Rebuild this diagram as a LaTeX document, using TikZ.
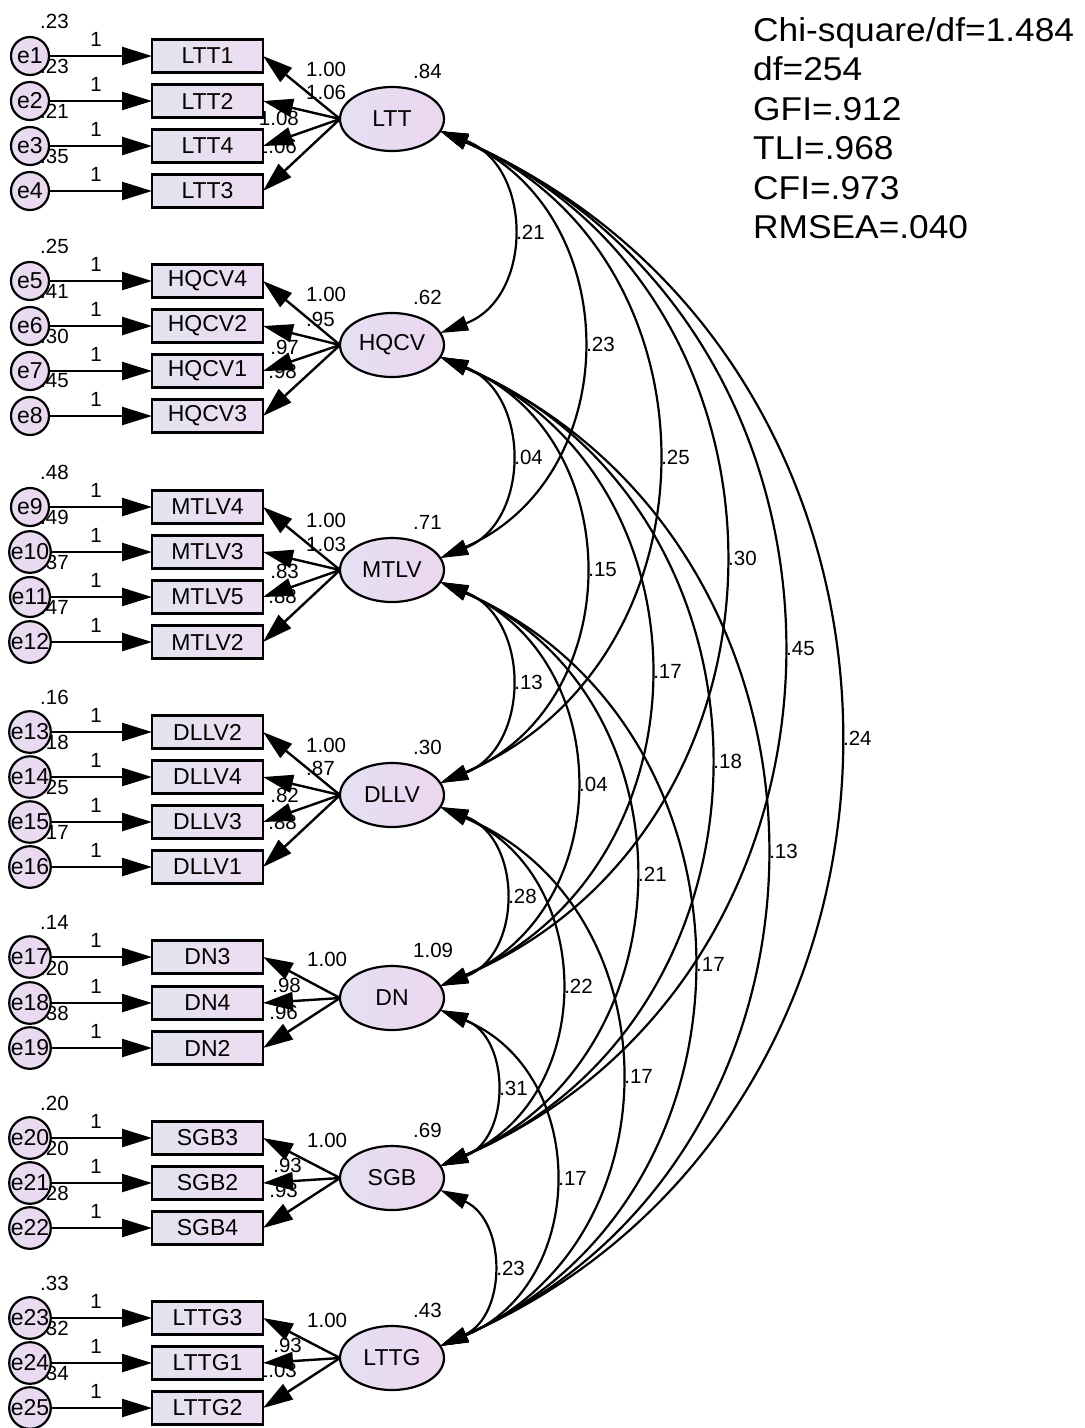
\documentclass[tikz,border=0pt]{standalone}
\usepackage{fontspec}
\setmainfont{Liberation Sans}
\usepackage{graphicx}
\usetikzlibrary{arrows.meta,shapes.geometric}
\pgfdeclarelayer{back}
\pgfdeclarelayer{bg}
\pgfsetlayers{back,bg,main}
\definecolor{boxL}{RGB}{226,228,240}
\definecolor{boxR}{RGB}{238,220,242}
\definecolor{latL}{RGB}{228,224,242}
\definecolor{latR}{RGB}{236,214,240}
\definecolor{errL}{RGB}{230,222,240}
\definecolor{errR}{RGB}{236,214,240}
\newcommand\numfnt{\fontsize{20.5}{23}\selectfont}
\newcommand\boxfnt{\fontsize{23}{26}\selectfont}
\newcommand\fitfnt{\fontsize{33}{39}\selectfont}
\newcommand\fitline[1]{\scalebox{1.07}[1]{#1}}
\begin{document}
\begin{tikzpicture}[x=1pt,y=1pt,
  obs/.style={draw, line width=2.4pt, minimum width=111pt, minimum height=33pt, inner sep=0pt, outer sep=0pt, left color=boxL, right color=boxR, font=\boxfnt},
  lat/.style={ellipse, draw, line width=2.2pt, minimum width=104pt, minimum height=64pt, inner sep=0pt, outer sep=0pt, left color=latL, right color=latR, font=\boxfnt},
  err/.style={circle, draw, line width=2.2pt, minimum size=38pt, inner sep=0pt, outer sep=0pt, left color=errL, right color=errR, font=\boxfnt},
  num/.style={font=\numfnt, inner sep=0pt},
  fit/.style={font=\fitfnt, inner sep=0pt, anchor=base west},
  load/.style={line width=2.4pt, -{Triangle[length=30pt,width=18pt]}},
  cov/.style={line width=2.2pt, {Triangle[length=28pt,width=15pt]}-{Triangle[length=28pt,width=15pt]}}
]
\begin{pgfonlayer}{back}
\fill[white] (0,0) rectangle (1085,-1428);
\end{pgfonlayer}
\useasboundingbox (0,0) rectangle (1085,-1428);

% fit statistics
\node[fit] (f1) at (753,-41) {\fitline{Chi-square/df=1.484}};
\node[fit] (f2) at (753,-80.5) {\fitline{df=254}};
\node[fit] (f3) at (753,-120) {\fitline{GFI=.912}};
\node[fit] (f4) at (753,-159) {\fitline{TLI=.968}};
\node[fit] (f5) at (753,-199) {\fitline{CFI=.973}};
\node[fit] (f6) at (753,-238) {\fitline{RMSEA=.040}};

% latent variables
\node[lat] (LTT) at (392,-119) {LTT};
\node[lat] (HQCV) at (392,-345) {HQCV};
\node[lat] (MTLV) at (392,-570) {MTLV};
\node[lat] (DLLV) at (392,-795) {DLLV};
\node[lat] (DN) at (392,-998) {DN};
\node[lat] (SGB) at (392,-1178) {SGB};
\node[lat] (LTTG) at (392,-1358) {LTTG};

% latent variances
\begin{pgfonlayer}{bg}
\node[num, anchor=west] (vLTT) at (413,-71) {.84};
\node[num, anchor=west] (vHQCV) at (413,-297) {.62};
\node[num, anchor=west] (vMTLV) at (413,-522) {.71};
\node[num, anchor=west] (vDLLV) at (413,-747) {.30};
\node[num, anchor=west] (vDN) at (413,-950) {1.09};
\node[num, anchor=west] (vSGB) at (413,-1130) {.69};
\node[num, anchor=west] (vLTTG) at (413,-1310) {.43};
\end{pgfonlayer}

% indicators, errors
\foreach \F/\n/\y/\e/\v in {
  LTT/LTT1/56/e1/.23, LTT/LTT2/101/e2/.23, LTT/LTT4/146/e3/.21, LTT/LTT3/191/e4/.35,
  HQCV/HQCV4/281/e5/.25, HQCV/HQCV2/326/e6/.41, HQCV/HQCV1/371/e7/.30, HQCV/HQCV3/416/e8/.45,
  MTLV/MTLV4/507/e9/.48, MTLV/MTLV3/552/e10/.49, MTLV/MTLV5/597/e11/.37, MTLV/MTLV2/642/e12/.47,
  DLLV/DLLV2/732/e13/.16, DLLV/DLLV4/777/e14/.18, DLLV/DLLV3/822/e15/.25, DLLV/DLLV1/867/e16/.17,
  DN/DN3/957/e17/.14, DN/DN4/1003/e18/.20, DN/DN2/1048/e19/.38,
  SGB/SGB3/1138/e20/.20, SGB/SGB2/1183/e21/.20, SGB/SGB4/1228/e22/.28,
  LTTG/LTTG3/1318/e23/.33, LTTG/LTTG1/1363/e24/.32, LTTG/LTTG2/1408/e25/.34}{
  \node[obs] (\n) at (207.5,-\y) {\n};
  \node[err] (\e) at (30,-\y) {\e};
  \begin{pgfonlayer}{bg}
  \node[num, anchor=west] (v\e) at (40,-\y+35) {\v};
  \end{pgfonlayer}
  \node[num] (w\e) at (96,-\y+17) {1};
  \draw[load] (\e) -- (\n);
  \draw[load] (\F.west) -- (\n.east);
}

% loading labels
\begin{pgfonlayer}{bg}
\node[num, anchor=west] (l1) at (306,-69) {1.00};
\node[num, anchor=west] (l2) at (306,-92) {1.06};
\node[num, anchor=east] (l3) at (299,-118) {1.08};
\node[num, anchor=east] (l4) at (297,-146) {1.06};
\node[num, anchor=west] (l5) at (306,-294) {1.00};
\node[num, anchor=west] (l6) at (306,-319) {.95};
\node[num, anchor=east] (l7) at (299,-347) {.97};
\node[num, anchor=east] (l8) at (297,-371) {.98};
\node[num, anchor=west] (l9) at (306,-520) {1.00};
\node[num, anchor=west] (l10) at (306,-544) {1.03};
\node[num, anchor=east] (l11) at (299,-571) {.83};
\node[num, anchor=east] (l12) at (297,-596) {.88};
\node[num, anchor=west] (l13) at (306,-745) {1.00};
\node[num, anchor=west] (l14) at (306,-768) {.87};
\node[num, anchor=east] (l15) at (299,-795) {.82};
\node[num, anchor=east] (l16) at (297,-822) {.88};
\node[num, anchor=west] (l17) at (307,-959) {1.00};
\node[num, anchor=east] (l18) at (301,-985) {.98};
\node[num, anchor=east] (l19) at (298,-1012) {.96};
\node[num, anchor=west] (l20) at (307,-1140) {1.00};
\node[num, anchor=east] (l21) at (302,-1165) {.93};
\node[num, anchor=east] (l22) at (298,-1190) {.93};
\node[num, anchor=west] (l23) at (307,-1320) {1.00};
\node[num, anchor=east] (l24) at (302,-1345) {.93};
\node[num, anchor=east] (l25) at (297,-1370) {1.03};
\end{pgfonlayer}

% covariances: start/end anchors, half angle, control distance, label
\foreach \a/\b/\ang/\dist/\lab in {
  LTT/HQCV/69.4/99.7/.21, LTT/MTLV/66.5/203.5/.23, LTT/DLLV/66.8/311.9/.25,
  LTT/DN/66.8/409.0/.30, LTT/SGB/66.6/493.9/.45, LTT/LTTG/66.3/577.9/.24,
  HQCV/MTLV/68.2/97.7/.04, HQCV/DLLV/67.4/205.1/.15, HQCV/DN/66.7/300.5/.17,
  HQCV/SGB/66.9/387.2/.18, HQCV/LTTG/66.3/470.3/.13,
  MTLV/DLLV/68.2/97.7/.13, MTLV/DN/66.7/193.0/.04, MTLV/SGB/66.6/278.8/.21,
  MTLV/LTTG/66.4/363.7/.17,
  DLLV/DN/69.4/88.3/.28, DLLV/SGB/66.6/171.4/.22, DLLV/LTTG/66.9/258.1/.17,
  DN/SGB/68.4/76.0/.31, DN/LTTG/67.4/161.8/.17,
  SGB/LTTG/65.3/73.4/.23}{
  \draw[cov] (\a.-14) .. controls +(-90+\ang:\dist) and +(90-\ang:\dist) .. (\b.14)
     node[num, midway, anchor=west, xshift=5pt] {\lab};
}
\end{tikzpicture}
\end{document}
